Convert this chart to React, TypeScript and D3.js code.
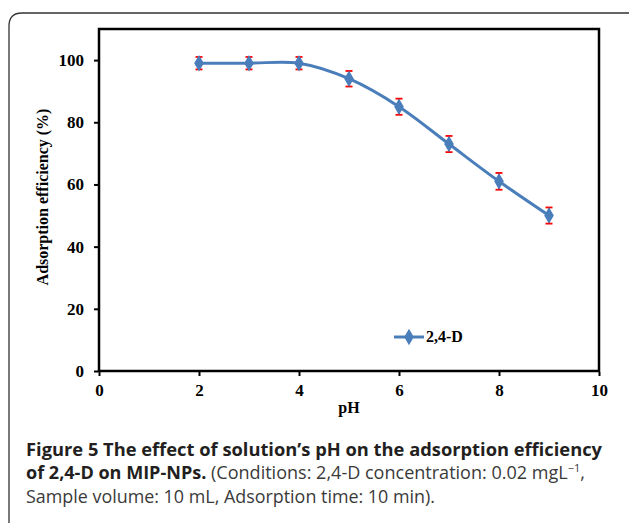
import React, { useEffect, useRef } from 'react';
import * as d3 from 'd3';

const phValues = [2, 3, 4, 5, 6, 7, 8, 9];
const efficiency = [99, 99, 99, 94, 85, 73, 61, 50];
const errors = [2, 2, 2, 2.5, 2.6, 2.6, 2.7, 2.6];
const xTicks = [0, 2, 4, 6, 8, 10];
const yTicks = [0, 20, 40, 60, 80, 100];
const seriesName = '2,4-D';

const W = 629;
const H = 523;
const serif = '"Liberation Serif", "Times New Roman", serif';
const sans = '"Open Sans", "Noto Sans", sans-serif';
const blue = '#4a7ebb';

const App = () => {
  const xAxisRef = useRef<SVGGElement>(null);
  const yAxisRef = useRef<SVGGElement>(null);

  const x = d3.scaleLinear().domain([0, 10]).range([99, 599]);
  const y = d3.scaleLinear().domain([0, 110]).range([371, 29]);

  const points = phValues.map((p, i) => ({ p, v: efficiency[i], e: errors[i] }));

  const line = d3.line<{ p: number; v: number }>()
    .x((d) => x(d.p))
    .y((d) => y(d.v))
    .curve(d3.curveCatmullRom.alpha(0));

  const diamond = d3.symbol().type(d3.symbolDiamond).size(80)();

  useEffect(() => {
    const styleAxis = (g: any) => {
      g.select('.domain').remove();
      g.selectAll('line').attr('stroke', '#000').attr('stroke-width', 2);
      g.selectAll('text')
        .attr('font-family', serif)
        .attr('font-weight', 'bold')
        .attr('font-size', 17)
        .attr('fill', '#000');
    };
    d3.select(xAxisRef.current)
      .call(d3.axisBottom(x).tickValues(xTicks).tickSize(4).tickSizeOuter(0).tickPadding(8) as any)
      .call(styleAxis);
    d3.select(yAxisRef.current)
      .call(d3.axisLeft(y).tickValues(yTicks).tickSize(4).tickSizeOuter(0).tickPadding(10) as any)
      .call(styleAxis);
  }, []);

  return (
    <svg width={W} height={H} style={{ position: 'absolute', left: 0, top: 0, background: '#fff' }}>
      <path
        d="M9,528 L9,26 Q9,13 22,13 L640,13"
        fill="none"
        stroke="#333"
        strokeWidth={1.3}
      />
      <rect x={99} y={29} width={500} height={342} fill="none" stroke="#000" strokeWidth={2.5} />
      <g ref={xAxisRef} transform="translate(0,372)" />
      <g ref={yAxisRef} transform="translate(98,0)" />

      <path d={line(points) || ''} fill="none" stroke={blue} strokeWidth={3} />
      {points.map((d, i) => (
        <g key={i}>
          <line x1={x(d.p)} x2={x(d.p)} y1={y(d.v + d.e)} y2={y(d.v - d.e)} stroke="#ff0000" strokeWidth={1.6} />
          <line x1={x(d.p) - 3.5} x2={x(d.p) + 3.5} y1={y(d.v + d.e)} y2={y(d.v + d.e)} stroke="#ff0000" strokeWidth={1.8} />
          <line x1={x(d.p) - 3.5} x2={x(d.p) + 3.5} y1={y(d.v - d.e)} y2={y(d.v - d.e)} stroke="#ff0000" strokeWidth={1.8} />
          <path d={diamond || ''} transform={`translate(${x(d.p)},${y(d.v)})`} fill={blue} />
        </g>
      ))}

      {/* legend */}
      <g transform="translate(394,337)">
        <line x1={0} x2={30} y1={0} y2={0} stroke={blue} strokeWidth={3} />
        <path d={diamond || ''} transform="translate(15,0)" fill={blue} />
        <text x={32} y={5} fontFamily={serif} fontWeight="bold" fontSize={16}>{seriesName}</text>
      </g>

      <text
        transform="translate(48,197) rotate(-90)"
        textAnchor="middle"
        fontFamily={serif}
        fontWeight="bold"
        fontSize={16}
      >
        Adsorption efficiency (%)
      </text>
      <text x={349} y={413} textAnchor="middle" fontFamily={serif} fontWeight="bold" fontSize={16}>pH</text>

      <g fontFamily={sans} fontSize={18} fill="#231f20">
        <text x={26} y={456} fontWeight="bold" textLength={576} lengthAdjust="spacingAndGlyphs">
          Figure 5 The effect of solution’s pH on the adsorption efficiency
        </text>
        <text x={26} y={479} textLength={559} lengthAdjust="spacingAndGlyphs">
          <tspan fontWeight="bold">of 2,4-D on MIP-NPs.</tspan>
          <tspan fill="#3a3a3a"> (Conditions: 2,4-D concentration: 0.02 mgL</tspan>
          <tspan fill="#3a3a3a" fontSize={11} dy={-7}>−1</tspan>
          <tspan fill="#3a3a3a" dy={7}>,</tspan>
        </text>
        <text x={26} y={503} fill="#3a3a3a" textLength={409} lengthAdjust="spacingAndGlyphs">
          Sample volume: 10 mL, Adsorption time: 10 min).
        </text>
      </g>
    </svg>
  );
};

export default App;
